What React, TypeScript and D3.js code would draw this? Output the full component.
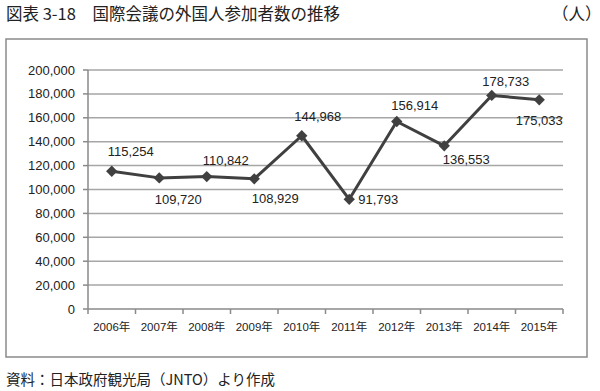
import React from "react";
import * as d3 from "d3";

const years = ["2006年", "2007年", "2008年", "2009年", "2010年", "2011年", "2012年", "2013年", "2014年", "2015年"];
const participants = [115254, 109720, 110842, 108929, 144968, 91793, 156914, 136553, 178733, 175033];
const yTicks = [0, 20000, 40000, 60000, 80000, 100000, 120000, 140000, 160000, 180000, 200000];
// hand-placed data labels in the original, offsets from the point
const labelOffsets: [number, number][] = [
  [19, -20], [19, 22], [19, -16], [21, 20], [16, -19],
  [29, 0], [18, -16], [22, 14], [14, -14], [0, 21],
];

const W = 600;
const H = 391;
const margin = { top: 70, right: 37, bottom: 82, left: 88 };

const App = () => {
  const x = d3
    .scaleBand<string>()
    .domain(years)
    .range([margin.left, W - margin.right])
    .padding(0);
  const y = d3
    .scaleLinear()
    .domain([0, 200000])
    .range([H - margin.bottom, margin.top]);
  const fmt = d3.format(",");

  const cx = (i: number) => x(years[i])! + x.bandwidth() / 2;
  const line = d3
    .line<number>()
    .x((_, i) => cx(i))
    .y((d) => y(d));

  const x0 = margin.left;
  const x1 = W - margin.right;
  const yBase = y(0);
  const boundaries = years.map((yr) => x(yr)!).concat([x1]);
  const marker = d3.symbol(d3.symbolSquare, 64)() ?? "";

  const latin = "'Liberation Sans', Arial, sans-serif";
  const jp = "'Noto Sans CJK JP', sans-serif";

  return (
    <svg
      width={W}
      height={H}
      style={{ position: "absolute", left: 0, top: 0, background: "#fff" }}
    >
      {/* title */}
      <text x={6} y={20} fontFamily={jp} fontSize={16.5} fill="#222">
        図表 3-18　国際会議の外国人参加者数の推移
      </text>
      <text x={552} y={20} fontFamily={jp} fontSize={16.5} fill="#222">
        （人）
      </text>

      {/* frame */}
      <rect x={6} y={39} width={581} height={318} fill="none" stroke="#8a8a8a" strokeWidth={1.5} />

      {/* gridlines */}
      {yTicks.slice(1).map((t) => (
        <line key={t} x1={x0} x2={x1} y1={y(t)} y2={y(t)} stroke="#a6a6a6" strokeWidth={1.5} />
      ))}

      {/* y axis */}
      <line x1={x0} x2={x0} y1={margin.top} y2={yBase} stroke="#8a8a8a" strokeWidth={1.5} />
      {yTicks.map((t) => (
        <g key={t}>
          <line x1={x0 - 5} x2={x0} y1={y(t)} y2={y(t)} stroke="#8a8a8a" strokeWidth={1.5} />
          <text
            x={x0 - 13}
            y={y(t)}
            dy="0.35em"
            textAnchor="end"
            fontFamily={latin}
            fontSize={13}
            fill="#222"
          >
            {fmt(t)}
          </text>
        </g>
      ))}

      {/* x axis */}
      <line x1={x0} x2={x1} y1={yBase} y2={yBase} stroke="#8a8a8a" strokeWidth={1.5} />
      {boundaries.map((bx, i) => (
        <line key={i} x1={bx} x2={bx} y1={yBase} y2={yBase + 5} stroke="#8a8a8a" strokeWidth={1.5} />
      ))}
      {years.map((yr, i) => (
        <text
          key={yr}
          x={cx(i)}
          y={yBase + 18}
          dy="0.35em"
          textAnchor="middle"
          fontFamily={latin}
          fontSize={11.5}
          fill="#222"
        >
          <tspan>{yr.slice(0, 4)}</tspan>
          <tspan fontFamily={jp}>{yr.slice(4)}</tspan>
        </text>
      ))}

      {/* series */}
      <path d={line(participants) ?? ""} fill="none" stroke="#404040" strokeWidth={3} strokeLinejoin="round" />
      {participants.map((v, i) => (
        <path
          key={i}
          d={marker}
          transform={`translate(${cx(i)},${y(v)}) rotate(45)`}
          fill="#404040"
        />
      ))}

      {/* data labels */}
      {participants.map((v, i) => (
        <text
          key={i}
          x={cx(i) + labelOffsets[i][0]}
          y={y(v) + labelOffsets[i][1]}
          dy="0.35em"
          textAnchor="middle"
          fontFamily={latin}
          fontSize={13}
          fill="#222"
        >
          {fmt(v)}
        </text>
      ))}

      {/* source */}
      <text x={6} y={385} fontFamily={jp} fontSize={14.5} fill="#222">
        資料：日本政府観光局（JNTO）より作成
      </text>
    </svg>
  );
};

export default App;
